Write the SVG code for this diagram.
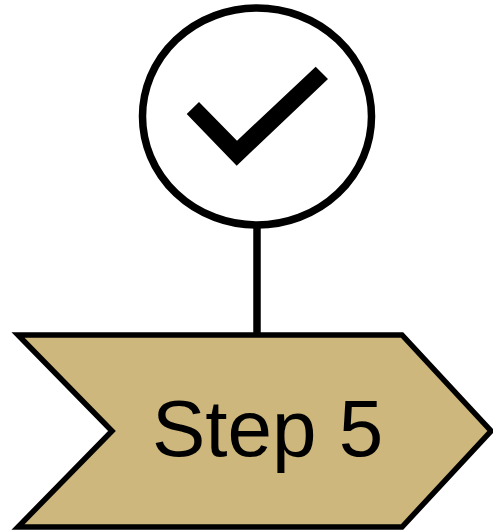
<svg xmlns="http://www.w3.org/2000/svg" width="493" height="532" viewBox="0 0 493 532">
<style>
.o{stroke:#000;fill:#fff}
.t{font-family:"Liberation Sans",Arial,sans-serif;font-size:80px;fill:#000}
</style>
<rect width="493" height="532" fill="#fff"/>
<g id="connectors"><line class="o" x1="257" y1="226" x2="257" y2="335" stroke-width="7.5"/></g>
<g id="check-node">
<ellipse class="o" cx="257" cy="116.5" rx="114.5" ry="108.5" stroke-width="7.5"/>
<polygon points="186.7,114 199,102 237,140.7 315.7,66.7 328,79 236.7,165.7" fill="#000"/>
</g>
<g id="step-5">
<polygon points="18,335 402,335 491,431 402,527 18,527 112,431" fill="#cdb77c" stroke="#000" stroke-width="5.5"/>
<text class="t" x="152" y="456">Step 5</text>
</g>
</svg>
